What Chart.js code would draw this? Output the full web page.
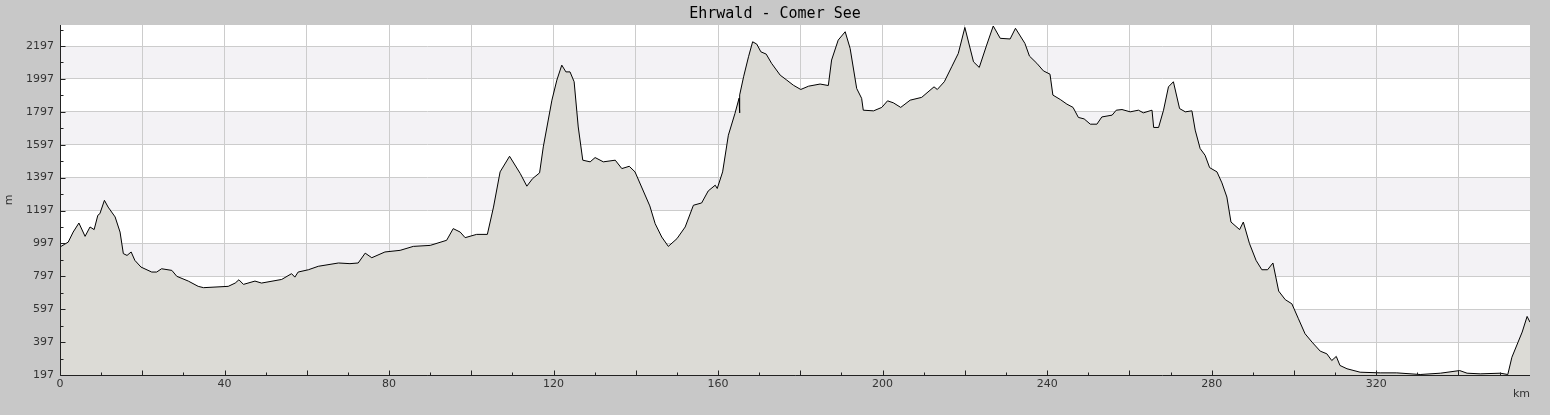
<!DOCTYPE html>
<html>
<head>
<meta charset="utf-8">
<script src="https://cdn.jsdelivr.net/npm/chart.js@4"></script>
<style>
  html, body { margin: 0; padding: 0; background: #c8c8c8; }
  canvas { display: block; }
</style>
</head>
<body>
<canvas id="profileChart" width="1550" height="415"></canvas>
<script>
const ctx = document.getElementById('profileChart').getContext('2d');

const chartTitle = 'Ehrwald - Comer See';

// distance (km) and elevation (m)
const distanceKm = [
  0, 1.0, 2.0, 3.2, 4.6, 6.1, 7.3, 8.3, 9.2, 9.7, 10.8, 11.7, 13.4, 14.6, 15.4, 16.3, 17.3, 18.2, 19.7,
  22.3, 23.5, 24.7, 27.2, 28.4, 31.2, 33.6, 34.9, 40.9, 42.6, 43.5, 44.6, 47.4, 49.0, 53.9, 56.3, 57.1,
  57.9, 60.4, 62.8, 67.7, 70.5, 72.5, 74.2, 75.8, 79.0, 82.7, 85.9, 90.0, 94.0, 95.6, 97.3, 98.5, 101.3,
  103.9, 105.4, 107.0, 109.3, 111.9, 113.5, 114.9, 116.6, 117.5, 119.6, 120.8, 122.0, 123.0, 124.0, 125.0,
  126.0, 127.1, 128.9, 130.1, 132.1, 135.0, 136.6, 138.4, 139.8, 141.4, 143.4, 144.7, 146.3, 147.9, 150.0,
  152.0, 154.0, 156.0, 157.6, 159.3, 159.8, 161.1, 162.5, 164.1, 165.1, 165.2, 165.3, 166.2, 167.4, 168.4,
  169.4, 170.4, 171.7, 173.0, 175.1, 176.7, 178.3, 180.1, 182.0, 184.8, 186.8, 187.6, 189.2, 190.9, 192.1,
  193.7, 194.9, 195.3, 197.8, 199.8, 201.2, 202.6, 204.4, 206.7, 209.5, 212.5, 213.3, 215.0, 216.8, 218.4,
  220.0, 222.1, 223.5, 225.3, 226.9, 228.6, 231.0, 232.3, 234.6, 235.7, 237.5, 239.1, 240.7, 241.4, 243.2,
  244.8, 246.3, 247.6, 249.0, 250.5, 252.1, 253.3, 255.8, 256.8, 258.2, 260.2, 262.2, 263.4, 265.5, 265.9,
  267.1, 268.3, 269.5, 270.7, 272.2, 273.6, 275.2, 276.0, 277.2, 278.4, 279.5, 281.3, 282.5, 283.7, 284.7,
  286.8, 287.7, 289.2, 290.8, 292.2, 293.6, 294.9, 296.3, 297.9, 299.5, 301.1, 302.7, 304.4, 306.4, 308.0,
  309.2, 310.3, 311.2, 312.9, 316.1, 321.0, 325.0, 330.7, 335.6, 340.3, 342.1, 345.3, 350.2, 352.0, 353.0,
  355.5, 356.7, 357.4
];
const elevationM = [
  975, 990, 1005, 1066, 1121, 1040, 1097, 1081, 1168, 1178, 1259, 1218, 1158, 1066, 935, 924, 945, 894, 853,
  823, 823, 843, 833, 797, 768, 736, 728, 736, 756, 776, 748, 768, 756, 778, 813, 792,
  823, 837, 858, 878, 874, 878, 938, 910, 945, 955, 979, 985, 1016, 1087, 1066, 1032, 1052,
  1052, 1218, 1432, 1527, 1422, 1345, 1391, 1426, 1584, 1868, 1990, 2081, 2040, 2040, 1980,
  1705, 1503, 1493, 1519, 1493, 1503, 1452, 1466, 1432, 1340, 1225, 1117, 1036, 979, 1026,
  1097, 1229, 1243, 1316, 1351, 1331, 1432, 1655, 1787, 1880, 1791, 1900, 2010, 2132, 2223,
  2209, 2162, 2148, 2092, 2020, 1990, 1959, 1933, 1953, 1966, 1957, 2112, 2233, 2284, 2183,
  1939, 1879, 1807, 1803, 1824, 1864, 1852, 1824, 1868, 1885, 1949, 1933, 1980, 2071, 2152,
  2310, 2101, 2067, 2203, 2319, 2244, 2240, 2305, 2213, 2136, 2092, 2046, 2026, 1899, 1872,
  1844, 1824, 1763, 1754, 1722, 1722, 1766, 1777, 1807, 1811, 1797, 1807, 1791, 1807, 1702,
  1702, 1807, 1949, 1980, 1817, 1797, 1803, 1686, 1574, 1533, 1458, 1432, 1365, 1279, 1127,
  1081, 1127, 996, 894, 837, 837, 878, 707, 655, 630, 539, 448, 397, 342, 326,
  285, 310, 255, 235, 214, 210, 210, 200, 208, 224, 208, 204, 208, 200, 305,
  458, 553, 518
];

// axis ticks
const xTickValues = [0, 10, 20, 30, 40, 50, 60, 70, 80, 90, 100, 110, 120, 130, 140, 150, 160, 170, 180,
  190, 200, 210, 220, 230, 240, 250, 260, 270, 280, 290, 300, 310, 320, 330, 340, 350];
const yTickValues = [197, 297, 397, 497, 597, 697, 797, 897, 997, 1097, 1197, 1297, 1397, 1497, 1597,
  1697, 1797, 1897, 1997, 2097, 2197, 2297];
const shadedBands = [[397, 597], [797, 997], [1197, 1397], [1597, 1797], [1997, 2197]];

const points = distanceKm.map((km, i) => ({ x: km, y: elevationM[i] }));

// grey page, shaded bands behind the grid, title centred on the page
const bandsPlugin = {
  id: 'bands',
  beforeDraw(chart) {
    const c = chart.ctx;
    const area = chart.chartArea;
    const y = chart.scales.y;
    c.save();
    c.fillStyle = '#c8c8c8';
    c.fillRect(0, 0, chart.width, chart.height);
    c.fillStyle = '#ffffff';
    c.fillRect(area.left, area.top, area.right - area.left, area.bottom - area.top);
    c.fillStyle = '#f3f2f5';
    shadedBands.forEach(([lo, hi]) => {
      const top = y.getPixelForValue(hi);
      const bottom = y.getPixelForValue(lo);
      c.fillRect(area.left, top, area.right - area.left, bottom - top);
    });
    c.fillStyle = '#000000';
    c.font = '15px "DejaVu Sans Mono"';
    c.textAlign = 'center';
    c.textBaseline = 'middle';
    c.fillText(chartTitle, chart.width / 2, 14);
    c.restore();
  }
};

// axis lines with inward tick marks
const axesPlugin = {
  id: 'axes',
  afterDatasetsDraw(chart) {
    const c = chart.ctx;
    const area = chart.chartArea;
    const xs = chart.scales.x, ys = chart.scales.y;
    const left = Math.round(area.left) + 0.5;
    const bottom = Math.round(area.bottom) + 0.5;
    c.save();
    c.strokeStyle = '#222';
    c.lineWidth = 1;
    c.beginPath();
    c.moveTo(left, area.top);
    c.lineTo(left, bottom);
    c.lineTo(area.right, bottom);
    yTickValues.forEach(v => {
      const py = Math.round(ys.getPixelForValue(v)) + 0.5;
      const len = (v - 197) % 200 === 0 ? 5 : 3;
      c.moveTo(left, py);
      c.lineTo(left + len, py);
    });
    xTickValues.forEach(v => {
      const px = Math.round(xs.getPixelForValue(v)) + 0.5;
      const len = v % 20 === 0 ? 5 : 3;
      c.moveTo(px, bottom);
      c.lineTo(px, bottom - len);
    });
    c.stroke();
    c.restore();
  }
};

new Chart(ctx, {
  type: 'line',
  data: {
    datasets: [{
      data: points,
      borderColor: '#000000',
      borderWidth: 1,
      backgroundColor: '#dcdbd6',
      fill: 'start',
      pointRadius: 0,
      tension: 0
    }]
  },
  options: {
    responsive: false,
    animation: false,
    events: [],
    layout: { padding: { top: 25, right: 20, left: 0, bottom: 0 } },
    plugins: {
      legend: { display: false },
      tooltip: { enabled: false },
      title: { display: false }
    },
    scales: {
      x: {
        type: 'linear',
        min: 0,
        max: 357.4,
        afterBuildTicks: s => { s.ticks = xTickValues.map(v => ({ value: v })); },
        afterFit: s => { s.height = 40; },
        border: { display: false },
        grid: {
          drawTicks: false,
          color: c => (c.tick && c.tick.value % 20 === 0 && c.tick.value > 0) ? '#cccccc' : 'rgba(0,0,0,0)',
          lineWidth: 1
        },
        ticks: {
          autoSkip: false,
          maxRotation: 0,
          padding: 3,
          color: '#333333',
          font: { family: 'DejaVu Sans', size: 11 },
          callback: v => v % 40 === 0 ? String(v) : ''
        },
        title: {
          display: true,
          text: 'km',
          align: 'end',
          color: '#333333',
          font: { family: 'DejaVu Sans', size: 11 },
          padding: { top: 0, bottom: 14 }
        }
      },
      y: {
        min: 197,
        max: 2325,
        afterBuildTicks: s => { s.ticks = yTickValues.map(v => ({ value: v })); },
        afterFit: s => { s.width = 60; },
        border: { display: false },
        grid: {
          drawTicks: false,
          color: c => (c.tick && (c.tick.value - 197) % 200 === 0 && c.tick.value > 197) ? '#cccccc' : 'rgba(0,0,0,0)',
          lineWidth: 1
        },
        ticks: {
          autoSkip: false,
          padding: 6,
          color: '#333333',
          font: { family: 'DejaVu Sans', size: 11 },
          callback: v => (v - 197) % 200 === 0 ? String(v) : ''
        },
        title: {
          display: true,
          text: 'm',
          color: '#333333',
          font: { family: 'DejaVu Sans', size: 11 },
          padding: { top: 3, bottom: 0 }
        }
      }
    }
  },
  plugins: [bandsPlugin, axesPlugin]
});
</script>
</body>
</html>
